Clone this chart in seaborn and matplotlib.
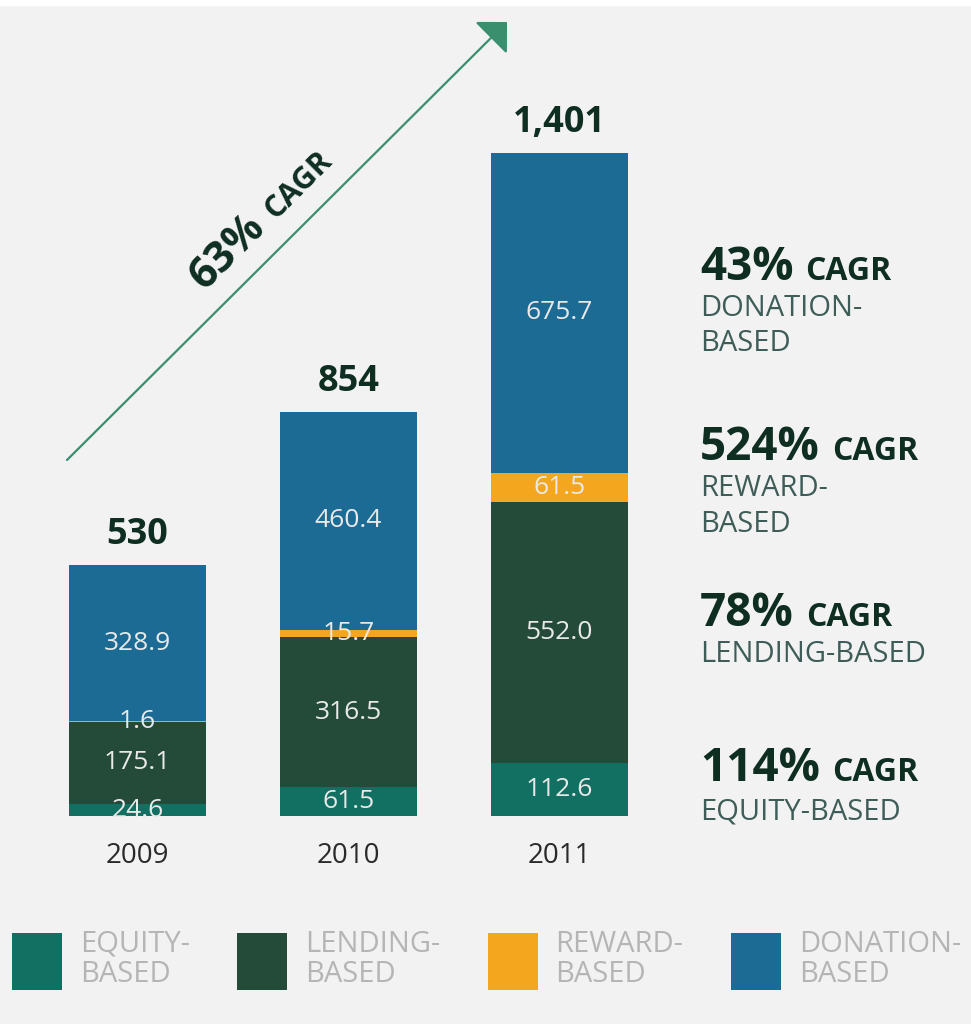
import matplotlib
matplotlib.use('Agg')
import matplotlib.pyplot as plt
from matplotlib.patches import Patch, Rectangle
import numpy as np
import seaborn as sns

# --- data ---
years = ['2009', '2010', '2011']
equity = [24.6, 61.5, 112.6]
lending = [175.1, 316.5, 552.0]
reward = [1.6, 15.7, 61.5]
donation = [328.9, 460.4, 675.7]
total_labels = ['530', '854', '1,401']

segment_names = ['EQUITY-\nBASED', 'LENDING-\nBASED', 'REWARD-\nBASED', 'DONATION-\nBASED']
cagr_values = ['43%', '524%', '78%', '114%']
cagr_names = ['DONATION-\nBASED', 'REWARD-\nBASED', 'LENDING-BASED', 'EQUITY-BASED']
overall_cagr = '63%'

EQUITY_C = '#127062'
LENDING_C = '#244b39'
REWARD_C = '#f4a71e'
DONATION_C = '#1b6b94'
BG = '#f2f2f2'
DARK = '#0f2e22'
SUB = '#3f5d58'

sns.set_style('white')
plt.rcParams['font.family'] = ['Open Sans', 'DejaVu Sans']

W, H = 971, 1024
fig = plt.figure(figsize=(W / 100, H / 100), dpi=100, facecolor=BG)
fig.patches.append(Rectangle((0, 1 - 5 / H), 1, 5 / H, transform=fig.transFigure,
                             color='white', zorder=0))

bar_bottom_px = 816
ax = fig.add_axes([0, 1 - bar_bottom_px / H, 700 / W, bar_bottom_px / H])
ax.set_facecolor(BG)

layers = [equity, lending, reward, donation]
colors = [EQUITY_C, LENDING_C, REWARD_C, DONATION_C]
cum = np.cumsum(np.array(layers), axis=0)

# stacked bars: draw the tallest cumulative layer first, then cover it downward
for i in range(len(layers) - 1, -1, -1):
    sns.barplot(x=years, y=cum[i], color=colors[i], saturation=1, width=0.65,
                errorbar=None, ax=ax, linewidth=0)

ax.set_xlim(-0.652, 2.666)
ax.set_ylim(0, bar_bottom_px / 0.473)
sns.despine(ax=ax, left=True, bottom=True)
ax.set_yticks([])
ax.set_xlabel('')
ax.set_ylabel('')
ax.tick_params(axis='x', length=0, pad=19, labelsize=20, labelcolor='#2a2a2a')

# segment value labels
for i, vals in enumerate(layers):
    bottoms = cum[i] - np.array(vals)
    for j, v in enumerate(vals):
        ax.text(j, bottoms[j] + v / 2, f'{v:.1f}', ha='center', va='center',
                fontsize=19, color='#e9e9e9')

# totals above bars
for j, lab in enumerate(total_labels):
    ax.annotate(lab, (j, cum[-1][j]), xytext=(0, 15), textcoords='offset points',
                ha='center', va='baseline', fontsize=26, fontweight='bold', color=DARK)

# overall growth arrow
ax.annotate('', xy=(507, H - 22), xycoords='figure pixels',
            xytext=(67, H - 460), textcoords='figure pixels',
            arrowprops=dict(arrowstyle='-|>,head_length=1,head_width=1', mutation_scale=14.4,
                            color='#3a8f6f', lw=1.6, shrinkA=0, shrinkB=0),
            annotation_clip=False)
fig.text(236 / W, 1 - 260 / H, overall_cagr, rotation=45, rotation_mode='anchor',
         ha='center', va='baseline', fontsize=31, fontweight='bold', color=DARK)
fig.text(304 / W, 1 - 191 / H, 'CAGR', rotation=45, rotation_mode='anchor',
         ha='center', va='baseline', fontsize=22, fontweight='bold', color=DARK)

# right-hand CAGR labels
big_baselines = [280, 460, 626, 781]
sub_baselines = [[316, 351], [496, 532], [662], [819]]
big_texts = []
for val, yb in zip(cagr_values, big_baselines):
    big_texts.append(fig.text(700 / W, 1 - yb / H, val, ha='left', va='baseline',
                              fontsize=33, fontweight='bold', color=DARK))
for name, ybs in zip(cagr_names, sub_baselines):
    for line, yb in zip(name.split('\n'), ybs):
        fig.text(700 / W, 1 - yb / H, line, ha='left', va='baseline',
                 fontsize=21, color=SUB)

fig.canvas.draw()
renderer = fig.canvas.get_renderer()
for t, yb in zip(big_texts, big_baselines):
    bb = t.get_window_extent(renderer)
    fig.text((bb.x1 + 12) / W, 1 - yb / H, 'CAGR', ha='left', va='baseline',
             fontsize=23, fontweight='bold', color=DARK)

# legend along the bottom
handles = [Patch(facecolor=c, edgecolor='none') for c in colors]
leg = fig.legend(handles, segment_names, loc='upper left',
                 bbox_to_anchor=(12 / W, 1 - 930 / H),
                 ncol=4, frameon=False, fontsize=21, handlelength=1.71, handleheight=2.62,
                 handletextpad=0.62, columnspacing=1.62, borderpad=0, borderaxespad=0,
                 labelcolor='#b5b5b5')
for t in leg.get_texts():
    t.set_linespacing(1.05)

fig.savefig('out.png', dpi=100, facecolor=BG)
